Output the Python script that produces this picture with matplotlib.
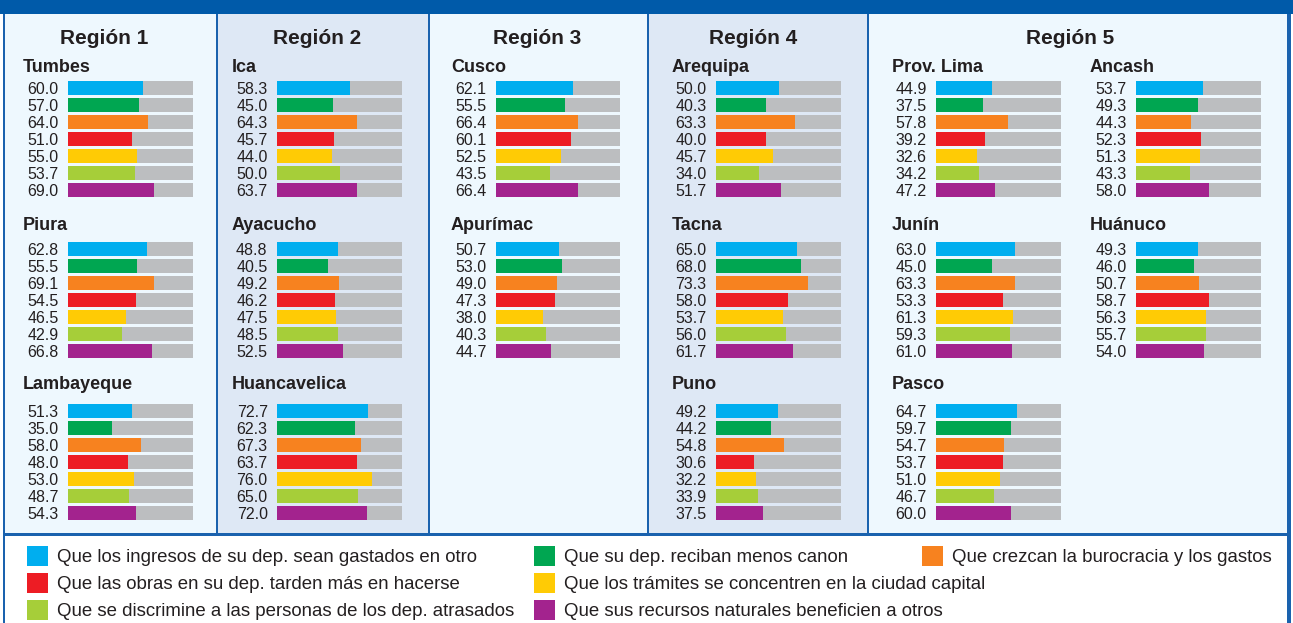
import matplotlib
matplotlib.use("Agg")
import matplotlib.pyplot as plt
from matplotlib.patches import Rectangle

plt.rcParams['font.family'] = ['Liberation Sans', 'DejaVu Sans']

# categorias (leyenda) y colores
categories = [
    "Que los ingresos de su dep. sean gastados en otro",
    "Que su dep. reciban menos canon",
    "Que crezcan la burocracia y los gastos",
    "Que las obras en su dep. tarden más en hacerse",
    "Que los trámites se concentren en la ciudad capital",
    "Que se discrimine a las personas de los dep. atrasados",
    "Que sus recursos naturales beneficien a otros",
]
colors = ["#00AEEF", "#00A651", "#F7821F", "#ED1C24", "#FFCB05", "#A6CE39", "#A3238E"]

regions = ["Región 1", "Región 2", "Región 3", "Región 4", "Región 5"]

# valores por departamento (%)
tumbes = [60.0, 57.0, 64.0, 51.0, 55.0, 53.7, 69.0]
piura = [62.8, 55.5, 69.1, 54.5, 46.5, 42.9, 66.8]
lambayeque = [51.3, 35.0, 58.0, 48.0, 53.0, 48.7, 54.3]
ica = [58.3, 45.0, 64.3, 45.7, 44.0, 50.0, 63.7]
ayacucho = [48.8, 40.5, 49.2, 46.2, 47.5, 48.5, 52.5]
huancavelica = [72.7, 62.3, 67.3, 63.7, 76.0, 65.0, 72.0]
cusco = [62.1, 55.5, 66.4, 60.1, 52.5, 43.5, 66.4]
apurimac = [50.7, 53.0, 49.0, 47.3, 38.0, 40.3, 44.7]
arequipa = [50.0, 40.3, 63.3, 40.0, 45.7, 34.0, 51.7]
tacna = [65.0, 68.0, 73.3, 58.0, 53.7, 56.0, 61.7]
puno = [49.2, 44.2, 54.8, 30.6, 32.2, 33.9, 37.5]
prov_lima = [44.9, 37.5, 57.8, 39.2, 32.6, 34.2, 47.2]
ancash = [53.7, 49.3, 44.3, 52.3, 51.3, 43.3, 58.0]
junin = [63.0, 45.0, 63.3, 53.3, 61.3, 59.3, 61.0]
huanuco = [49.3, 46.0, 50.7, 58.7, 56.3, 55.7, 54.0]
pasco = [64.7, 59.7, 54.7, 53.7, 51.0, 46.7, 60.0]

W, H = 1293, 623
TXT = "#231F20"
BORDER = "#1A62AE"
LIGHT = "#EEF8FE"
MID = "#DEE8F5"

# posiciones en pixeles
# paneles: (x0, x1, fondo)
panels = [(5, 216, LIGHT), (218, 428, MID), (430, 647, LIGHT), (649, 867, MID), (869, 1287, LIGHT)]
title_x = [104.5, 317.5, 537.5, 753, 1070]
# columnas de barras: (x etiqueta, x inicio barra, ancho)
cols = [(23, 68, 125), (232, 277, 125), (451, 496, 124), (672, 716, 125), (892, 936, 125), (1090, 1136, 125)]
row_center = [88, 249, 411]
row_label = [72, 230, 389]

groups = [
    ("Tumbes", tumbes, 0, 0), ("Piura", piura, 0, 1), ("Lambayeque", lambayeque, 0, 2),
    ("Ica", ica, 1, 0), ("Ayacucho", ayacucho, 1, 1), ("Huancavelica", huancavelica, 1, 2),
    ("Cusco", cusco, 2, 0), ("Apurímac", apurimac, 2, 1),
    ("Arequipa", arequipa, 3, 0), ("Tacna", tacna, 3, 1), ("Puno", puno, 3, 2),
    ("Prov. Lima", prov_lima, 4, 0), ("Ancash", ancash, 5, 0),
    ("Junín", junin, 4, 1), ("Huánuco", huanuco, 5, 1), ("Pasco", pasco, 4, 2),
]

fig = plt.figure(figsize=(W / 100, H / 100), dpi=100)
bg = fig.add_axes([0, 0, 1, 1])
bg.set_xlim(0, W)
bg.set_ylim(H, 0)
bg.axis("off")

# marco
bg.add_patch(Rectangle((3, 0), 1288, H, facecolor=BORDER, edgecolor="none"))
bg.add_patch(Rectangle((0, 0), W, 14, facecolor="#005AA9", edgecolor="none"))
for x0, x1, fc in panels:
    bg.add_patch(Rectangle((x0, 14), x1 - x0, 519, facecolor=fc, edgecolor="none"))
bg.add_patch(Rectangle((5, 536), 1282, H - 536, facecolor="white", edgecolor="none"))

for name, tx in zip(regions, title_x):
    bg.text(tx, 44, name, ha="center", va="baseline", fontsize=15, fontweight="bold", color=TXT)

# barras
pitch = 17
for name, vals, c, r in groups:
    lx, bx, bw = cols[c]
    bg.text(lx, row_label[r], name, ha="left", va="baseline", fontsize=13, fontweight="bold", color=TXT)
    top = row_center[r] - pitch / 2
    h = pitch * 7
    ax = fig.add_axes([bx / W, 1 - (top + h) / H, bw / W, h / H])
    ax.set_xlim(0, 100)
    ax.set_ylim(6.5, -0.5)
    ax.axis("off")
    ys = list(range(len(vals)))
    ax.barh(ys, [100] * len(vals), height=14 / 17, color="#BCBEC0", left=0)
    ax.barh(ys, vals, height=14 / 17, color=colors, left=0)
    for y, v in zip(ys, vals):
        ax.text(-7.5, y + 0.33, f"{v:.1f}", ha="right", va="baseline", fontsize=11.5, color=TXT, clip_on=False)

# leyenda
leg_x = [27, 534, 922]
leg_y = [556, 583, 610]
leg_pos = [(0, 0), (1, 0), (2, 0), (0, 1), (1, 1), (0, 2), (1, 2)]
for lab, col, (ci, ri) in zip(categories, colors, leg_pos):
    x, y = leg_x[ci], leg_y[ri]
    bg.add_patch(Rectangle((x, y - 10), 21, 20, facecolor=col, edgecolor="none"))
    bg.text(x + 30, y + 6, lab, ha="left", va="baseline", fontsize=13.4, color=TXT)

fig.savefig("out.png", dpi=100)
